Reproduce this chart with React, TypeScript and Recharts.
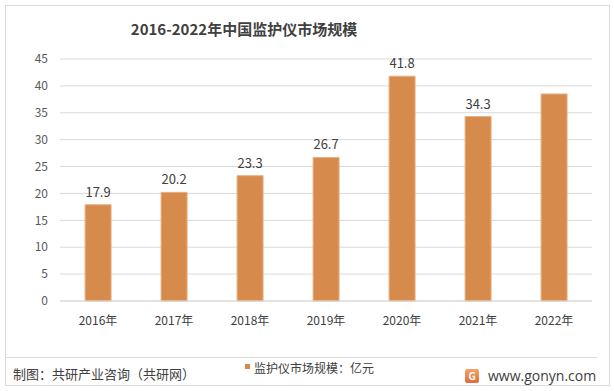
import { Bar, BarChart, CartesianGrid, LabelList, XAxis, YAxis } from "recharts";

const years = ["2016年", "2017年", "2018年", "2019年", "2020年", "2021年", "2022年"];
const marketSize = [17.9, 20.2, 23.3, 26.7, 41.8, 34.3, 38.5];
const barLabels = ["17.9", "20.2", "23.3", "26.7", "41.8", "34.3", ""];
const yTicks = [0, 5, 10, 15, 20, 25, 30, 35, 40, 45];

const font = "'Noto Sans CJK SC', 'Noto Sans', sans-serif";
const barColor = "#D68B4C";

const data = years.map((year, i) => ({ year, value: marketSize[i], label: barLabels[i] }));

export default function App() {
  return (
    <div style={{ position: "absolute", left: 0, top: 0, width: 614, height: 391, background: "#fff", fontFamily: font }}>
      <div style={{ position: "absolute", left: 5, top: 5, width: 603, height: 379, border: "1px solid #d9d9d9" }} />
      <div style={{ position: "absolute", left: 0, top: 18, width: 488, textAlign: "center", fontSize: 15, fontWeight: 700, color: "#404040" }}>
        2016-2022年中国监护仪市场规模
      </div>
      <div style={{ position: "absolute", left: 0, top: 0 }}>
        <BarChart width={614} height={391} data={data} margin={{ top: 59, right: 22, left: 0, bottom: 60 }} barCategoryGap="33%">
          <CartesianGrid vertical={false} stroke="#d9d9d9" />
          <XAxis dataKey="year" height={30} axisLine={{ stroke: "#d9d9d9" }} tickLine={false} tickSize={0} tickMargin={15}
            tick={{ fontSize: 12, fill: "#404040", fontFamily: font }} interval={0} />
          <YAxis domain={[0, 45]} ticks={yTicks} width={60} axisLine={false} tickLine={false} tickSize={0} tickMargin={12}
            tick={{ fontSize: 12, fill: "#595959", fontFamily: font }} interval={0} />
          <Bar dataKey="value" fill={barColor} stroke="#e6b183" strokeWidth={1} isAnimationActive={false}>
            <LabelList dataKey="label" position="top" offset={8} style={{ fontSize: 13, fill: "#404040", fontFamily: font }} />
          </Bar>
        </BarChart>
      </div>
      <div style={{ position: "absolute", left: 5, top: 357, width: 592, height: 1, background: "#d9d9d9" }} />
      <div style={{ position: "absolute", left: 13, top: 364, fontSize: 13, color: "#404040" }}>制图：共研产业咨询（共研网）</div>
      <div style={{ position: "absolute", left: 245, top: 359, display: "flex", alignItems: "center", fontSize: 12, color: "#404040" }}>
        <i style={{ display: "inline-block", width: 5, height: 5, background: barColor, marginRight: 4, marginTop: -3 }} />
        监护仪市场规模：亿元
      </div>
      <div style={{ position: "absolute", left: 465, top: 366, display: "flex", alignItems: "center" }}>
        <div style={{ width: 14, height: 14, background: "linear-gradient(#f3a46b, #e06c3a)", borderRadius: 2, color: "#fff", fontSize: 10, fontWeight: 700, textAlign: "center", lineHeight: "14px" }}>G</div>
        <span style={{ marginLeft: 9, fontSize: 14, color: "#404040", fontFamily: "'Open Sans', sans-serif" }}>www.gonyn.com</span>
      </div>
    </div>
  );
}
